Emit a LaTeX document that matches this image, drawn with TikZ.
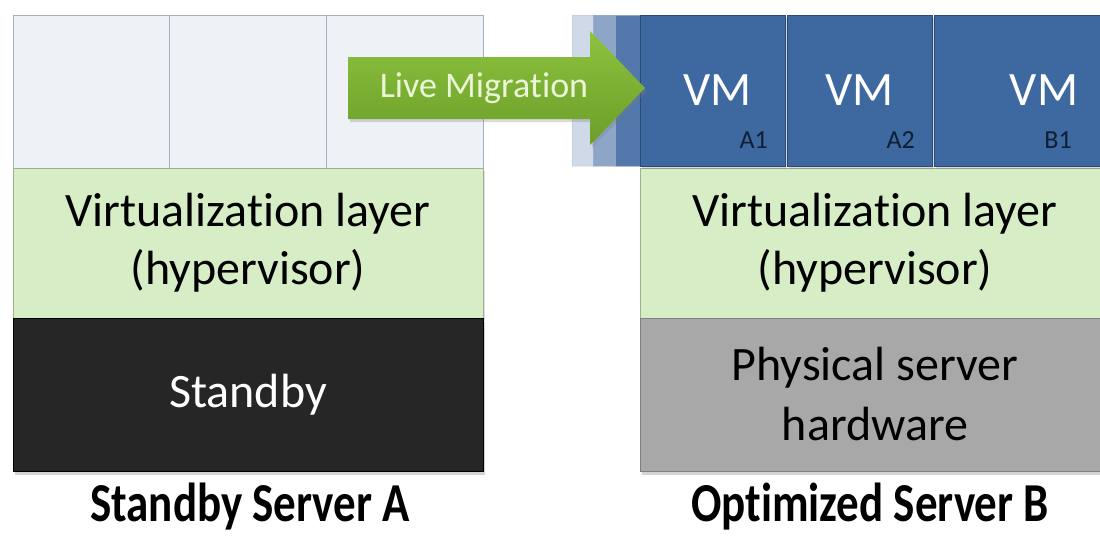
\documentclass[tikz,border=0pt]{standalone}
\usepackage{fontspec}
\setmainfont[Ligatures=NoCommon]{Carlito}
\usetikzlibrary{shadows}
\definecolor{cellfill}{HTML}{EEF2F7}
\definecolor{cellline}{HTML}{A9AFB8}
\definecolor{layergreen}{HTML}{D7EDC6}
\definecolor{layerline}{HTML}{9DB08F}
\definecolor{standbyfill}{HTML}{262626}
\definecolor{hwgray}{HTML}{A8A8A8}
\definecolor{hwline}{HTML}{7F7F7F}
\definecolor{vmblue}{HTML}{3E68A0}
\definecolor{vmline}{HTML}{2A4A77}
\definecolor{arrowtop}{HTML}{8DC23F}
\definecolor{arrowbot}{HTML}{6B9E28}
\definecolor{migtextcol}{HTML}{EAF6D6}
\definecolor{sublabel}{HTML}{0F1F33}
\begin{document}
\begin{tikzpicture}[x=1pt,y=-1pt,
  base/.style={inner sep=0pt, outer sep=0pt, anchor=north west, align=center, line width=1pt},
  emptycell/.style={base, draw=cellline, fill=cellfill, minimum width=156.7pt, minimum height=153pt},
  hyper/.style={base, draw=layerline, fill=layergreen, minimum width=470pt, minimum height=150pt,
    font=\fontsize{48}{58}\selectfont, drop shadow={shadow xshift=2pt, shadow yshift=-3pt, opacity=0.25}},
  standbybox/.style={base, draw=black, fill=standbyfill, text=white, minimum width=470pt, minimum height=153pt,
    font=\fontsize{48}{57}\selectfont, drop shadow={shadow xshift=2pt, shadow yshift=-4pt, opacity=0.35}},
  hwbox/.style={base, draw=hwline, fill=hwgray, text=black, minimum width=470pt, minimum height=153pt,
    font=\fontsize{48}{60}\selectfont, drop shadow={shadow xshift=2pt, shadow yshift=-4pt, opacity=0.35}},
  vmbox/.style={base, draw=vmline, fill=vmblue, text=white, minimum height=151pt,
    font=\fontsize{48}{60}\selectfont, drop shadow={shadow xshift=2pt, shadow yshift=-3pt, opacity=0.3}},
  ghostbox/.style={base, draw=vmline!40, fill=vmblue, minimum height=151pt, minimum width=70pt},
  sublab/.style={anchor=south east, inner sep=0pt, text=sublabel, font=\fontsize{26}{28}\selectfont},
  caption/.style={inner sep=0pt, font=\fontsize{45}{55}\selectfont\bfseries},
  migtext/.style={inner sep=0pt, text=migtextcol, font=\fontsize{36}{40}\selectfont}
]
\useasboundingbox (0,0) rectangle (1100,538);
\clip (0,0) rectangle (1100,538);

% ---- Standby Server A ----
\node[emptycell] (c1) at (13,15) {};
\node[emptycell] (c2) at (169.7,15) {};
\node[emptycell] (c3) at (326.4,15) {};
\node[hyper] (hA) at (13,168) {Virtualization layer\\(hypervisor)};
\node[standbybox] (sA) at (13,318) {Standby};
\node[caption] (capA) at (250,507) {\scalebox{1}[1.22]{Standby Server A}};

% ---- Optimized Server B ----
\node[ghostbox, opacity=0.25] (g1) at (572,15) {};
\node[ghostbox, opacity=0.45] (g2) at (593,15) {};
\node[ghostbox, opacity=0.75] (g3) at (615,15) {};
\node[hyper] (hB) at (640,168) {Virtualization layer\\(hypervisor)};
\node[hwbox] (hwB) at (640,318) {Physical server\\hardware};
\node[vmbox, minimum width=145pt] (vm1) at (640,15) {\hspace*{10pt}VM};
\node[vmbox, minimum width=145pt] (vm2) at (787,15) {VM};
\node[vmbox, minimum width=170pt] (vm3) at (934,15) {\hspace*{50pt}VM};
\node[sublab] (l1) at ([shift={(-17,-17)}]vm1.south east) {A1};
\node[sublab] (l2) at ([shift={(-17,-17)}]vm2.south east) {A2};
\node[sublab] (l3) at ([shift={(-32,-17)}]vm3.south east) {B1};
\node[caption] (capB) at (870,507) {\scalebox{1}[1.22]{Optimized Server B}};

% ---- Live Migration arrow ----
\path[top color=arrowtop, bottom color=arrowbot, drop shadow={shadow xshift=2pt, shadow yshift=-3pt, opacity=0.3}]
  (348,57) -- (590,57) -- (590,31) -- (645,88) -- (590,145) -- (590,119) -- (348,119) -- cycle;
\node[migtext] (mig) at (484,88) {Live Migration};
\end{tikzpicture}
\end{document}
